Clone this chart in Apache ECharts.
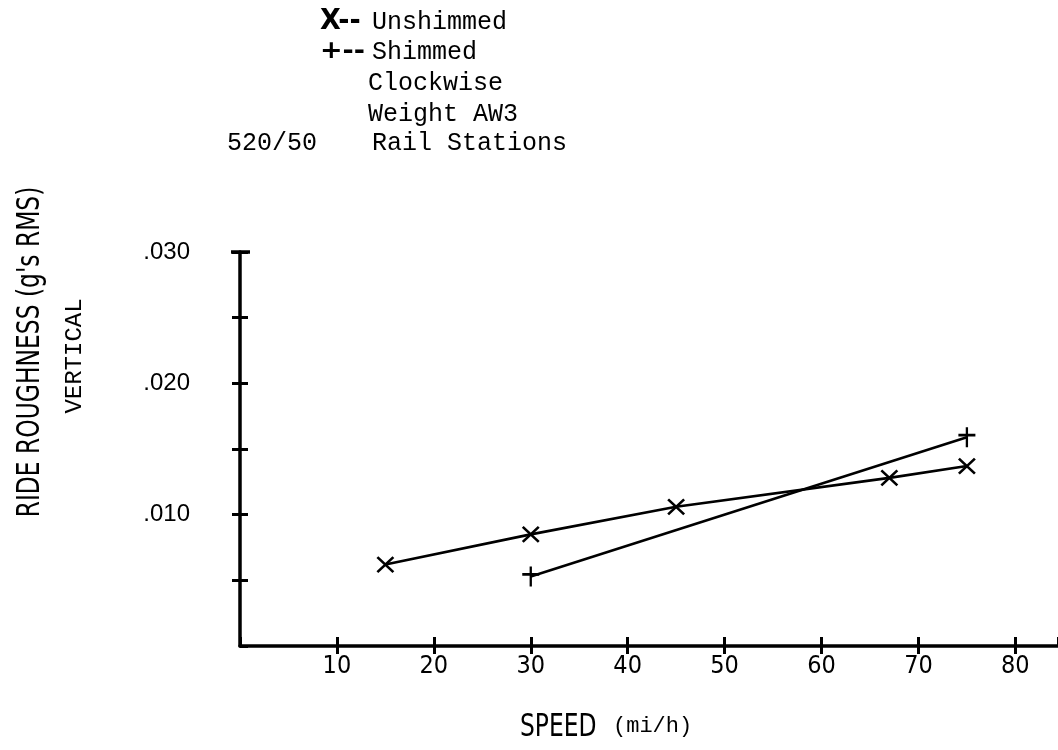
<!DOCTYPE html>
<html>
<head>
<meta charset="utf-8">
<script src="https://cdn.jsdelivr.net/npm/echarts@6/dist/echarts.min.js"></script>
<style>
html,body{margin:0;padding:0;background:#fff;}
#c{width:1058px;height:750px;}
</style>
</head>
<body>
<div id="c"></div>
<script>
// Data
const unshimmedSpeed = [15, 30, 45, 67, 75];
const unshimmedRough = [0.0062, 0.0085, 0.0106, 0.0128, 0.0137];
const shimmedSpeed = [30, 75];
const shimmedRough = [0.0053, 0.0159];
const yLabeled = [0.010, 0.020, 0.030];
const xLabeled = [10, 20, 30, 40, 50, 60, 70, 80];
const legendLines = ['X--', '+--'];
const legendNames = ['Unshimmed', 'Shimmed'];
const noteLines = ['Clockwise', 'Weight AW3'];

const unshimmed = unshimmedSpeed.map((s, i) => [s, unshimmedRough[i]]);
const shimmed = shimmedSpeed.map((s, i) => [s, shimmedRough[i]]);

const mono = '"Liberation Mono","DejaVu Sans Mono",monospace';
const narrow = '"DejaVu Sans Condensed","DejaVu Sans",sans-serif';
const sans = '"Liberation Sans","DejaVu Sans",sans-serif';

const chart = echarts.init(document.getElementById('c'));

const xFmt = v => (xLabeled.indexOf(Math.round(v)) >= 0 && Math.abs(v - Math.round(v)) < 1e-6) ? String(Math.round(v)) : '';
const yFmt = v => {
  for (const t of yLabeled) if (Math.abs(v - t) < 1e-9) return t.toFixed(3).replace(/^0/, '');
  return '';
};

const X_MAX = 84.4;

chart.setOption({
  animation: false,
  backgroundColor: '#fff',
  grid: {left: 240, right: 0, top: 252, bottom: 104, containLabel: false},
  xAxis: [{
    type: 'value', min: 0, max: X_MAX, interval: 10, position: 'bottom',
    axisLine: {show: true, onZero: false, lineStyle: {color: '#000', width: 3.5}},
    axisTick: {show: true, length: 8, inside: false, lineStyle: {color: '#000', width: 3}},
    axisLabel: {formatter: xFmt, color: '#000', fontFamily: narrow, fontSize: 25, margin: 8, showMinLabel: false, showMaxLabel: false},
    splitLine: {show: false}
  }, {
    type: 'value', min: 0, max: X_MAX, interval: 10, position: 'bottom',
    axisLine: {show: false, onZero: false},
    axisTick: {show: true, length: 9, inside: true, lineStyle: {color: '#000', width: 3}},
    axisLabel: {show: false},
    splitLine: {show: false}
  }],
  yAxis: [{
    type: 'value', min: 0, max: 0.030, interval: 0.005, position: 'left',
    axisLine: {show: true, onZero: false, lineStyle: {color: '#000', width: 3.5}},
    axisTick: {show: true, length: 8, inside: false, lineStyle: {color: '#000', width: 3}},
    axisLabel: {formatter: yFmt, color: '#000', fontFamily: sans, fontSize: 24, margin: 50, showMinLabel: false},
    splitLine: {show: false}
  }, {
    type: 'value', min: 0, max: 0.030, interval: 0.005, position: 'left',
    axisLine: {show: false, onZero: false},
    axisTick: {show: true, length: 8, inside: true, lineStyle: {color: '#000', width: 3}},
    axisLabel: {show: false},
    splitLine: {show: false}
  }],
  series: [{
    name: 'Unshimmed', type: 'line', data: unshimmed, xAxisIndex: 0, yAxisIndex: 0,
    symbol: 'path://M0,0L10,10M0,10L10,0', symbolSize: [16, 15],
    itemStyle: {color: 'none', borderColor: '#000', borderWidth: 2.5},
    lineStyle: {color: '#000', width: 2.6},
    z: 3
  }, {
    name: 'Shimmed', type: 'line', data: shimmed, xAxisIndex: 0, yAxisIndex: 0,
    symbol: 'path://M5,0L5,10M0,4L10,4', symbolSize: [17, 20],
    itemStyle: {color: 'none', borderColor: '#000', borderWidth: 2.5},
    lineStyle: {color: '#000', width: 2.6},
    z: 3
  }],
  graphic: [
    {type: 'text', x: 320, y: 22, scaleX: 1.25, scaleY: 1.15, style: {text: legendLines[0], font: 'bold 24px ' + narrow, fill: '#000', verticalAlign: 'middle'}},
    {type: 'text', x: 372, y: 22, style: {text: legendNames[0], font: '25px ' + mono, fill: '#000', verticalAlign: 'middle'}},
    {type: 'text', x: 320, y: 52, scaleX: 1.25, style: {text: legendLines[1], font: 'bold 24px ' + narrow, fill: '#000', verticalAlign: 'middle'}},
    {type: 'text', x: 372, y: 52, style: {text: legendNames[1], font: '25px ' + mono, fill: '#000', verticalAlign: 'middle'}},
    {type: 'text', x: 368, y: 83, style: {text: noteLines[0], font: '25px ' + mono, fill: '#000', verticalAlign: 'middle'}},
    {type: 'text', x: 368, y: 114, style: {text: noteLines[1], font: '25px ' + mono, fill: '#000', verticalAlign: 'middle'}},
    {type: 'text', x: 317, y: 143, style: {text: '520/50', font: '25px ' + mono, fill: '#000', align: 'right', verticalAlign: 'middle'}},
    {type: 'text', x: 372, y: 143, style: {text: 'Rail Stations', font: '25px ' + mono, fill: '#000', verticalAlign: 'middle'}},
    {type: 'text', x: 31, y: 352, rotation: Math.PI / 2, scaleY: 1.2, style: {text: "RIDE ROUGHNESS (g's RMS)", font: '26px ' + narrow, fill: '#000', align: 'center', verticalAlign: 'middle'}},
    {type: 'text', x: 75, y: 356, rotation: Math.PI / 2, style: {text: 'VERTICAL', font: '24px ' + mono, fill: '#000', align: 'center', verticalAlign: 'middle'}},
    {type: 'text', x: 520, y: 728, scaleY: 1.2, style: {text: 'SPEED', font: '26px ' + narrow, fill: '#000', verticalAlign: 'middle'}},
    {type: 'text', x: 613, y: 726, style: {text: '(mi/h)', font: '22px ' + mono, fill: '#000', verticalAlign: 'middle'}},
    {type: 'line', shape: {x1: 231, y1: 252, x2: 250, y2: 252}, style: {stroke: '#000', lineWidth: 3.5}}
  ]
});
</script>
</body>
</html>
